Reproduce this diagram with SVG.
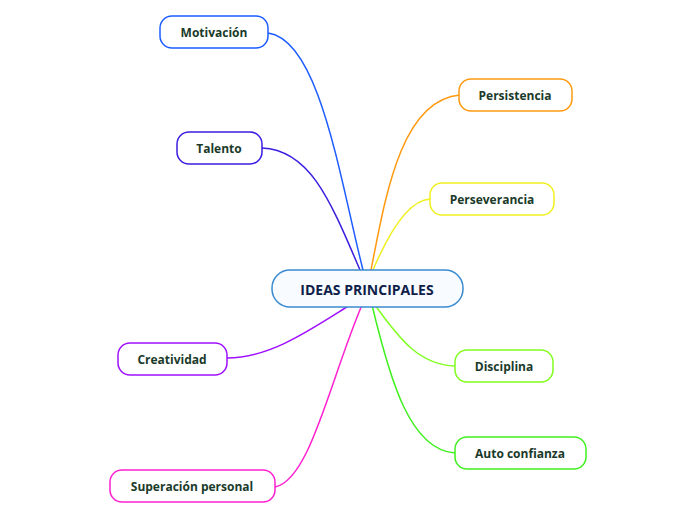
<svg xmlns="http://www.w3.org/2000/svg" width="696" height="520" viewBox="0 0 696 520">
<style>
.n{fill:#fff;stroke-width:1.5}
.t{font-family:"Open Sans","Noto Sans",sans-serif;font-weight:bold;font-size:12px;fill:#1a3a2a;text-anchor:middle}
.c{fill:none;stroke-width:1.5}
</style>
<rect width="696" height="520" fill="#fff"/>
<g id="connectors">
<path class="c" stroke="#1e5cff" stroke-width="3" d="M363 270 C340 180 320 40 268 33"/>
<path class="c" stroke="#3a1ee0" d="M360 270 C330 200 310 150 262 148"/>
<path class="c" stroke="#ff9a10" d="M371 270 C385 200 400 100 460 95"/>
<path class="c" stroke="#f0f020" d="M373 270 C390 230 410 200 430 199"/>
<path class="c" stroke="#a010ff" d="M350 305 C310 330 270 358 227 358"/>
<path class="c" stroke="#ff20d0" d="M362 305 C330 380 310 480 275 487"/>
<path class="c" stroke="#80ff20" d="M375 305 C400 340 420 365 455 366"/>
<path class="c" stroke="#40f020" d="M372 305 C390 380 410 450 455 453"/>
</g>
<g id="center"><rect x="272" y="270" width="191" height="37" rx="18" fill="#f8fbff" stroke="#3a8ad0" stroke-width="1.5"/><text x="367" y="295" class="t" style="font-size:14px;fill:#0f1f4a">IDEAS PRINCIPALES</text></g>
<g id="motivacion"><rect class="n" x="160" y="16" width="108" height="32" rx="12" stroke="#1e5cff"/><text class="t" x="214" y="37">Motivación</text></g>
<g id="talento"><rect class="n" x="177" y="132" width="85" height="32" rx="12" stroke="#3a1ee0"/><text class="t" x="219" y="153">Talento</text></g>
<g id="persistencia"><rect class="n" x="459" y="79" width="113" height="32" rx="12" stroke="#ff9a10"/><text class="t" x="515" y="100">Persistencia</text></g>
<g id="perseverancia"><rect class="n" x="430" y="183" width="124" height="32" rx="12" stroke="#f0f020"/><text class="t" x="492" y="204">Perseverancia</text></g>
<g id="creatividad"><rect class="n" x="118" y="343" width="109" height="32" rx="12" stroke="#a010ff"/><text class="t" x="172" y="364">Creatividad</text></g>
<g id="superacion"><rect class="n" x="110" y="470" width="165" height="32" rx="12" stroke="#ff20d0"/><text class="t" x="192" y="491">Superación personal</text></g>
<g id="disciplina"><rect class="n" x="455" y="350" width="98" height="32" rx="12" stroke="#80ff20"/><text class="t" x="504" y="371">Disciplina</text></g>
<g id="autoconfianza"><rect class="n" x="455" y="437" width="131" height="32" rx="12" stroke="#40f020"/><text class="t" x="520" y="458">Auto confianza</text></g>
</svg>
